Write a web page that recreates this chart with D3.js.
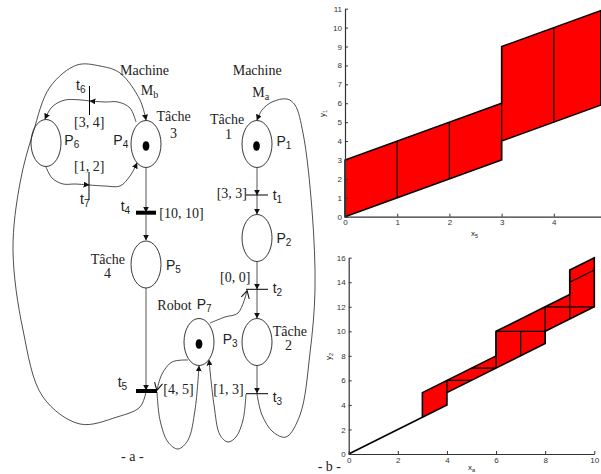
<!DOCTYPE html>
<html>
<head>
<meta charset="utf-8">
<script src="https://cdnjs.cloudflare.com/ajax/libs/d3/7.8.5/d3.min.js"></script>
<style>
html, body { margin: 0; padding: 0; background: #fff; overflow: hidden; }
svg { display: block; }
.serif { font-family: "Liberation Serif", serif; font-size: 14px; fill: #222; }
.sans { font-family: "Liberation Sans", sans-serif; font-size: 14px; fill: #222; }
.tick text { font-family: "Liberation Sans", sans-serif; font-size: 8px; fill: #333; }
.tick line, .domain { stroke: #333; }
</style>
</head>
<body>
<div id="container"></div>
<script>
// top plot (x5 / y1)
var topXTicks = [0, 1, 2, 3, 4];
var topYTicks = [0, 1, 2, 3, 4, 5, 6, 7, 8, 9, 10, 11];
var topOutlineX = [0, 3, 3, 4.9, 4.9, 3, 3, 0];
var topOutlineY = [0, 3, 4, 5.9, 10.9, 9, 6, 3];
var topDivX = [1, 2, 3, 4];
var topDivLow = [1, 2, 3, 5];
var topDivHigh = [4, 5, 9, 10];

// bottom plot (xa / y2)
var botXTicks = [0, 2, 4, 6, 8, 10];
var botYTicks = [0, 2, 4, 6, 8, 10, 12, 14, 16];
var botOutlineX = [0, 3, 4, 4, 6, 8, 8, 10, 10, 9, 9, 8, 6, 6, 4, 3, 3];
var botOutlineY = [0, 3, 4, 5, 7, 9, 10, 12, 16, 15, 13, 12, 10, 8, 6, 5, 3];
var botSegX0 = [4, 4, 5, 6, 6, 7, 8, 8, 9, 9];
var botSegY0 = [5, 6, 7, 7, 10, 8, 9, 12, 11, 14];
var botSegX1 = [4, 5, 6, 6, 8, 7, 8, 10, 9, 10];
var botSegY1 = [6, 6, 7, 10, 10, 10, 12, 12, 15, 15];

var width = 601;
var height = 474;

var svg = d3.select("#container")
    .append("svg")
    .attr("width", width)
    .attr("height", height);

var defs = svg.append("defs");
defs.append("marker")
    .attr("id", "arrow")
    .attr("viewBox", "0 0 10 10")
    .attr("refX", 9)
    .attr("refY", 5)
    .attr("markerUnits", "userSpaceOnUse")
    .attr("markerWidth", 6)
    .attr("markerHeight", 6)
    .attr("orient", "auto")
    .append("path")
    .attr("d", "M0,0L10,5L0,10Z")
    .attr("fill", "#111");
defs.append("marker")
    .attr("id", "open")
    .attr("viewBox", "0 0 10 10")
    .attr("refX", 9)
    .attr("refY", 5)
    .attr("markerUnits", "userSpaceOnUse")
    .attr("markerWidth", 9)
    .attr("markerHeight", 9)
    .attr("orient", "auto")
    .append("path")
    .attr("d", "M1,0.5L9.5,5L1,9.5")
    .attr("fill", "none")
    .attr("stroke", "#111")
    .attr("stroke-width", 1.2);

function drawPlot(o) {
    var x = d3.scaleLinear().domain(o.xDomain).range(o.xRange);
    var y = d3.scaleLinear().domain(o.yDomain).range(o.yRange);
    var g = svg.append("g");
    var line = d3.line()
        .x(function (d) { return x(d[0]); })
        .y(function (d) { return y(d[1]); });

    g.append("path")
        .attr("d", line(d3.zip(o.outlineX, o.outlineY)) + "Z")
        .attr("fill", "#ff0000")
        .attr("stroke", "#000")
        .attr("stroke-width", o.strokeWidth);

    g.selectAll("line.div")
        .data(o.segments)
        .enter()
        .append("line")
        .attr("class", "div")
        .attr("x1", function (d) { return x(d[0]); })
        .attr("y1", function (d) { return y(d[1]); })
        .attr("x2", function (d) { return x(d[2]); })
        .attr("y2", function (d) { return y(d[3]); })
        .attr("stroke", "#000")
        .attr("stroke-width", o.strokeWidth * 0.8);

    g.append("g")
        .attr("transform", "translate(0," + o.yRange[0] + ")")
        .call(d3.axisBottom(x).tickValues(o.xTicks).tickFormat(d3.format("d")).tickSizeInner(-3).tickSizeOuter(0).tickPadding(3));
    g.append("g")
        .attr("transform", "translate(" + o.xRange[0] + ",0)")
        .call(d3.axisLeft(y).tickValues(o.yTicks).tickFormat(d3.format("d")).tickSizeInner(-3).tickSizeOuter(0).tickPadding(3));
    g.selectAll(".domain").attr("stroke-width", 1.2);

    var xl = g.append("text")
        .attr("class", "sans")
        .attr("x", o.xLabelPos[0])
        .attr("y", o.xLabelPos[1])
        .style("font-size", "8px");
    xl.append("tspan").text("x");
    xl.append("tspan").attr("dy", 2).style("font-size", "5.5px").text(o.xSub);

    var yl = g.append("text")
        .attr("class", "sans")
        .attr("transform", "translate(" + o.yLabelPos[0] + "," + o.yLabelPos[1] + ") rotate(-90)")
        .style("font-size", "8px");
    yl.append("tspan").text("y");
    yl.append("tspan").attr("dy", 2).style("font-size", "5.5px").text(o.ySub);
}

drawPlot({
    xDomain: [0, 4.9], xRange: [345, 600.8],
    yDomain: [0, 11], yRange: [216.7, 8.7],
    xTicks: topXTicks, yTicks: topYTicks,
    outlineX: topOutlineX, outlineY: topOutlineY,
    segments: topDivX.map(function (v, i) { return [v, topDivLow[i], v, topDivHigh[i]]; }),
    strokeWidth: 1.5,
    xLabelPos: [471, 236], xSub: "5",
    yLabelPos: [325, 117], ySub: "1"
});

drawPlot({
    xDomain: [0, 10], xRange: [348.7, 594.3],
    yDomain: [0, 16], yRange: [454, 257.7],
    xTicks: botXTicks, yTicks: botYTicks,
    outlineX: botOutlineX, outlineY: botOutlineY,
    segments: botSegX0.map(function (v, i) { return [v, botSegY0[i], botSegX1[i], botSegY1[i]]; }),
    strokeWidth: 1.6,
    xLabelPos: [468, 470], xSub: "a",
    yLabelPos: [331, 360], ySub: "2"
});

// petri net, everything below is in picture pixels
var net = svg.append("g");
var curve = d3.line().curve(d3.curveCatmullRom.alpha(0.5));

var curves = [
    { pts: [[146, 392], [140, 407], [117, 417], [80, 424], [43, 397], [23, 330], [13, 250], [20, 183], [33, 133], [50, 87], [77, 65], [100, 66], [120, 73], [140, 100], [146, 120]], m: "arrow" },
    { pts: [[257, 394], [262, 415], [273, 432], [286, 437], [300, 415], [310, 353], [315, 290], [312, 210], [303, 133], [295, 105], [287, 99], [272, 102], [262, 110], [257, 120]], m: "arrow" },
    { pts: [[157, 392], [160, 420], [168, 442], [178, 449], [188, 440], [195, 410], [199, 366]], m: "arrow" },
    { pts: [[188, 360], [172, 362], [162, 374], [157, 390]], m: "open" },
    { pts: [[246, 394], [243, 420], [236, 437], [228, 442], [220, 435], [214, 405], [209, 360]], m: "arrow" },
    { pts: [[210, 323], [225, 317], [238, 313], [247, 291]], m: "open" },
    { pts: [[136, 122], [130, 108], [118, 102], [105, 102], [90, 101]], m: "arrow" },
    { pts: [[90, 101], [65, 100], [52, 107], [45, 119]], m: "arrow" },
    { pts: [[46, 167], [52, 178], [63, 184], [75, 184], [89, 185]], m: "arrow" },
    { pts: [[89, 185], [105, 186], [120, 186], [130, 176], [137, 163]], m: "arrow" }
];
net.selectAll("path.arc")
    .data(curves)
    .enter()
    .append("path")
    .attr("class", "arc")
    .attr("d", function (d) { return curve(d.pts); })
    .attr("fill", "none")
    .attr("stroke", "#222")
    .attr("stroke-width", 0.8)
    .attr("marker-end", function (d) { return "url(#" + d.m + ")"; });

var arcs = [
    [146, 168, 146, 212], [146, 215, 146, 240], [146, 288, 146, 390],
    [257, 168, 257, 195], [257, 195, 257, 214], [257, 262, 257, 289],
    [257, 289, 257, 318], [257, 366, 257, 393]
];
net.selectAll("line.arc")
    .data(arcs)
    .enter()
    .append("line")
    .attr("class", "arc")
    .attr("x1", function (d) { return d[0]; })
    .attr("y1", function (d) { return d[1]; })
    .attr("x2", function (d) { return d[2]; })
    .attr("y2", function (d) { return d[3]; })
    .attr("stroke", "#555")
    .attr("stroke-width", 1)
    .attr("marker-end", "url(#arrow)");

var places = [[46, 143], [146, 144], [146, 264.5], [199, 342], [257, 342], [257, 238], [257, 144]];
net.selectAll("ellipse.place")
    .data(places)
    .enter()
    .append("ellipse")
    .attr("class", "place")
    .attr("cx", function (d) { return d[0]; })
    .attr("cy", function (d) { return d[1]; })
    .attr("rx", 15)
    .attr("ry", 23.5)
    .attr("fill", "none")
    .attr("stroke", "#222")
    .attr("stroke-width", 0.9);

var tokens = [[146, 146], [256.5, 146], [199, 344]];
net.selectAll("ellipse.token")
    .data(tokens)
    .enter()
    .append("ellipse")
    .attr("class", "token")
    .attr("cx", function (d) { return d[0]; })
    .attr("cy", function (d) { return d[1]; })
    .attr("rx", 3.4)
    .attr("ry", 4.8)
    .attr("fill", "#000");

// x1, y1, x2, y2, stroke width
var bars = [
    [89.5, 86, 89.5, 115, 1],
    [89, 172, 89, 200, 1],
    [136, 212.7, 156, 212.7, 4],
    [136, 391, 157, 391, 4],
    [246, 195, 268, 195, 1],
    [246, 289.3, 268, 289.3, 1],
    [246, 393.7, 268, 393.7, 1]
];
net.selectAll("line.bar")
    .data(bars)
    .enter()
    .append("line")
    .attr("class", "bar")
    .attr("x1", function (d) { return d[0]; })
    .attr("y1", function (d) { return d[1]; })
    .attr("x2", function (d) { return d[2]; })
    .attr("y2", function (d) { return d[3]; })
    .attr("stroke", "#000")
    .attr("stroke-width", function (d) { return d[4]; });

// text, subscript, x, baseline, class
var labels = [
    ["Machine", "", 120, 75, "serif"],
    ["M", "b", 140.7, 95, "serif"],
    ["Tâche", "", 156.5, 121, "serif"],
    ["3", "", 170, 137.7, "serif"],
    ["t", "6", 76, 90, "sans"],
    ["[3, 4]", "", 74, 127, "serif"],
    ["P", "6", 64.3, 145, "sans"],
    ["P", "4", 113.3, 145, "sans"],
    ["[1, 2]", "", 74, 170.7, "serif"],
    ["t", "7", 80, 204, "sans"],
    ["t", "4", 120.7, 210.7, "sans"],
    ["[10, 10]", "", 159.3, 218, "serif"],
    ["Tâche", "", 90.7, 264, "serif"],
    ["4", "", 104, 278, "serif"],
    ["P", "5", 166, 270, "sans"],
    ["Robot", "", 157.3, 310, "serif"],
    ["P", "7", 196.7, 309, "sans"],
    ["P", "3", 222.7, 344, "sans"],
    ["Tâche", "", 272.7, 335.7, "serif"],
    ["2", "", 285, 350, "serif"],
    ["t", "5", 117.7, 386.7, "sans"],
    ["[4, 5]", "", 163.3, 394, "serif"],
    ["[1, 3]", "", 213.3, 394, "serif"],
    ["t", "3", 272.7, 401.7, "sans"],
    ["t", "2", 272.7, 293, "sans"],
    ["[0, 0]", "", 220, 281.7, "serif"],
    ["P", "2", 276.5, 243, "sans"],
    ["P", "1", 276.5, 146, "sans"],
    ["Machine", "", 232.7, 75, "serif"],
    ["M", "a", 252.3, 96.7, "serif"],
    ["Tâche", "", 210, 124, "serif"],
    ["1", "", 225, 138.7, "serif"],
    ["[3, 3]", "", 216.7, 198, "serif"],
    ["t", "1", 272.7, 200, "sans"],
    ["- a -", "", 121, 460.7, "serif"],
    ["- b -", "", 317.7, 471, "serif"]
];
labels.forEach(function (d) {
    var t = net.append("text")
        .attr("class", d[4])
        .attr("x", d[2])
        .attr("y", d[3])
        .text(d[0]);
    if (d[1]) {
        t.append("tspan")
            .attr("dy", 3)
            .style("font-size", "10px")
            .text(d[1]);
    }
});
</script>
</body>
</html>
